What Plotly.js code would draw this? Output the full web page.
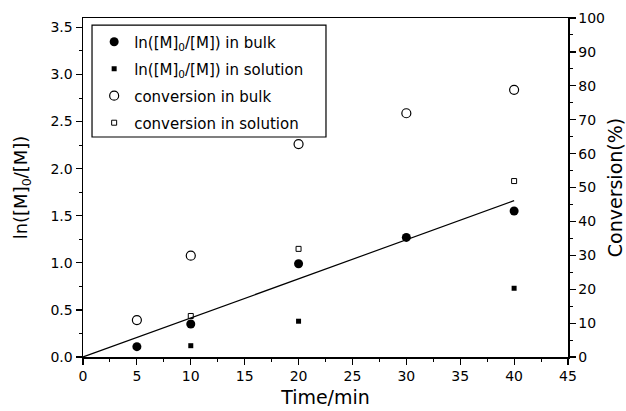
<!DOCTYPE html>
<html>
<head>
<meta charset="utf-8">
<script src="https://cdn.plot.ly/plotly-3.0.1.min.js"></script>
<style>
html,body{margin:0;padding:0;background:#fff;}
#chart{width:626px;height:411px;}
</style>
</head>
<body>
<div id="chart"></div>
<script>
// ---- data ----
const timeBulk = [5, 10, 20, 30, 40];
const lnBulk = [0.11, 0.35, 0.99, 1.27, 1.55];
const timeSol = [10, 20, 40];
const lnSol = [0.12, 0.38, 0.73];
const convBulk = [10.9, 29.9, 62.8, 71.9, 78.8];
const convSol = [12.1, 31.9, 51.9];
const fitTime = [0, 40];
const fitLn = [0, 1.66];
const legendNames = [
  "ln([M]<sub>0</sub>/[M]) in bulk",
  "ln([M]<sub>0</sub>/[M]) in solution",
  "conversion in bulk",
  "conversion in solution"
];

const FONT = "DejaVu Sans, Liberation Sans, Arial, sans-serif";

const traces = [
  {x: timeBulk, y: lnBulk, name: legendNames[0], type: "scatter", mode: "markers",
   marker: {symbol: "circle", size: 9, color: "#000"}, legendgroup: "a", yaxis: "y"},
  {x: timeSol, y: lnSol, name: legendNames[1], type: "scatter", mode: "markers",
   marker: {symbol: "square", size: 5, color: "#000"}, legendgroup: "b", yaxis: "y"},
  {x: timeBulk, y: convBulk, name: legendNames[2], type: "scatter", mode: "markers",
   marker: {symbol: "circle-open", size: 9, color: "#000", line: {width: 1.2, color: "#000"}}, legendgroup: "c", yaxis: "y2"},
  {x: timeSol, y: convSol, name: legendNames[3], type: "scatter", mode: "markers",
   marker: {symbol: "square-open", size: 5, color: "#000", line: {width: 1, color: "#000"}}, legendgroup: "d", yaxis: "y2"},
  {x: fitTime, y: fitLn, type: "scatter", mode: "lines", showlegend: false,
   line: {color: "#000", width: 1.2}, yaxis: "y", hoverinfo: "skip"}
];

const layout = {
  width: 626, height: 411,
  margin: {l: 83, r: 58, t: 18, b: 54},
  paper_bgcolor: "#fff", plot_bgcolor: "#fff",
  font: {family: FONT, color: "#000", size: 14},
  showlegend: true,
  legend: {
    x: 0.023, y: 0.978, xanchor: "left", yanchor: "top",
    borderwidth: 0, bgcolor: "rgba(255,255,255,0)",
    font: {family: FONT, size: 15, color: "#000"},
    traceorder: "grouped", tracegroupgap: 4.5, itemsizing: "trace"
  },
  shapes: [
    {type: "rect", xref: "paper", yref: "paper",
     x0: 0.0186, x1: 0.501, y0: 0.649, y1: 0.979,
     line: {color: "#000", width: 1.2}, fillcolor: "rgba(0,0,0,0)"}
  ],
  xaxis: {
    range: [0, 45], dtick: 5, tick0: 0,
    showgrid: false, zeroline: false,
    showline: true, linecolor: "#000", linewidth: 1.5, mirror: true,
    ticks: "outside", ticklen: 6, tickwidth: 1.2, tickcolor: "#000",
    minor: {dtick: 2.5, ticks: "outside", ticklen: 3, tickwidth: 1, tickcolor: "#000"},
    tickfont: {size: 14},
    title: {text: "Time/min", font: {size: 19}, standoff: 7}
  },
  yaxis: {
    range: [0, 3.6], dtick: 0.5, tick0: 0, tickformat: ".1f",
    showgrid: false, zeroline: false,
    showline: true, linecolor: "#000", linewidth: 1.5,
    ticks: "outside", ticklen: 6, tickwidth: 1.2, tickcolor: "#000",
    minor: {dtick: 0.25, ticks: "outside", ticklen: 3, tickwidth: 1, tickcolor: "#000"},
    tickfont: {size: 14},
    title: {text: "ln([M]<sub>0</sub>/[M])", font: {size: 18}, standoff: 18}
  },
  yaxis2: {
    overlaying: "y", side: "right",
    range: [0, 100], dtick: 10, tick0: 0,
    showgrid: false, zeroline: false,
    showline: true, linecolor: "#000", linewidth: 1.5,
    ticks: "outside", ticklen: 6, tickwidth: 1.2, tickcolor: "#000",
    minor: {dtick: 5, ticks: "outside", ticklen: 3, tickwidth: 1, tickcolor: "#000"},
    tickfont: {size: 14},
    title: {text: "Conversion(%)", font: {size: 19}, standoff: 7}
  }
};

Plotly.newPlot("chart", traces, layout, {displayModeBar: false, staticPlot: true});
</script>
</body>
</html>
